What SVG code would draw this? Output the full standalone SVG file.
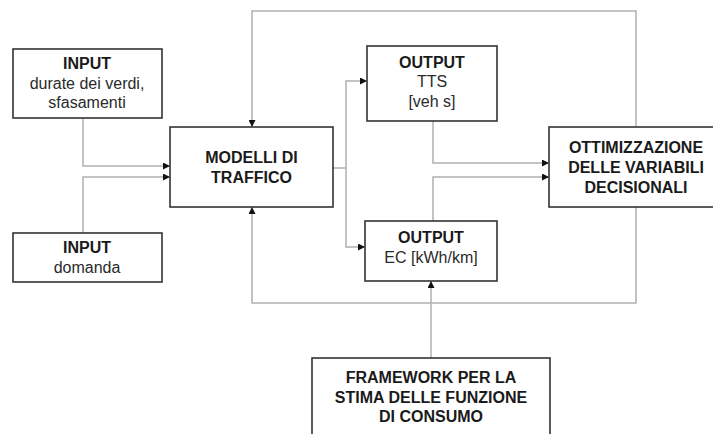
<svg xmlns="http://www.w3.org/2000/svg" width="713" height="434" viewBox="0 0 713 434">
<style>
.box{fill:#fff;stroke:#333;stroke-width:1.6}
.ln{fill:none;stroke:#b0b0b0;stroke-width:1.5}
text{font-family:"Liberation Sans",Arial,sans-serif;font-size:16px;text-anchor:middle;fill:#2a2a2a}
.b{font-weight:bold;fill:#1a1a1a}
</style>
<defs>
<marker id="ar" viewBox="0 0 10 10" refX="10" refY="5" markerWidth="7" markerHeight="7" markerUnits="userSpaceOnUse" orient="auto">
<path d="M0,0 L10,5 L0,10 z" fill="#111"/>
</marker>
</defs>
<g id="connectors">
<path class="ln" d="M83,118 V166 H170" marker-end="url(#ar)"/>
<path class="ln" d="M83,233 V177 H170" marker-end="url(#ar)"/>
<path class="ln" d="M636,127 V11 H252 V127" marker-end="url(#ar)"/>
<path class="ln" d="M636,207 V303 H252 V207" marker-end="url(#ar)"/>
<path class="ln" d="M333,168 H346"/>
<path class="ln" d="M346,168 V81 H367" marker-end="url(#ar)"/>
<path class="ln" d="M346,168 V247 H365" marker-end="url(#ar)"/>
<path class="ln" d="M433,121 V163 H549" marker-end="url(#ar)"/>
<path class="ln" d="M433,221 V177 H549" marker-end="url(#ar)"/>
<path class="ln" d="M431,358 V281" marker-end="url(#ar)"/>
</g>
<g id="input1">
<rect class="box" x="13" y="49" width="149" height="69"/>
<text class="b" x="87" y="69">INPUT</text>
<text x="87" y="89">durate dei verdi,</text>
<text x="87" y="108">sfasamenti</text>
</g>
<g id="input2">
<rect class="box" x="13" y="233" width="149" height="49"/>
<text class="b" x="87" y="253">INPUT</text>
<text x="87" y="273">domanda</text>
</g>
<g id="modelli">
<rect class="box" x="170" y="127" width="163" height="80"/>
<text class="b" x="251.5" y="163">MODELLI DI</text>
<text class="b" x="251.5" y="183">TRAFFICO</text>
</g>
<g id="output-tts">
<rect class="box" x="367" y="46" width="130" height="75"/>
<text class="b" x="432" y="68">OUTPUT</text>
<text x="432" y="87">TTS</text>
<text x="432" y="107">[veh s]</text>
</g>
<g id="output-ec">
<rect class="box" x="365" y="221" width="132" height="60"/>
<text class="b" x="431" y="243">OUTPUT</text>
<text x="431" y="263">EC [kWh/km]</text>
</g>
<g id="ottimizzazione">
<rect class="box" x="549" y="127" width="170" height="80"/>
<text class="b" x="636" y="153">OTTIMIZZAZIONE</text>
<text class="b" x="636" y="173">DELLE VARIABILI</text>
<text class="b" x="636" y="193">DECISIONALI</text>
</g>
<g id="framework">
<rect class="box" x="312" y="358" width="238" height="90"/>
<text class="b" x="431" y="383">FRAMEWORK PER LA</text>
<text class="b" x="431" y="403">STIMA DELLE FUNZIONE</text>
<text class="b" x="431" y="422">DI CONSUMO</text>
</g>
</svg>
